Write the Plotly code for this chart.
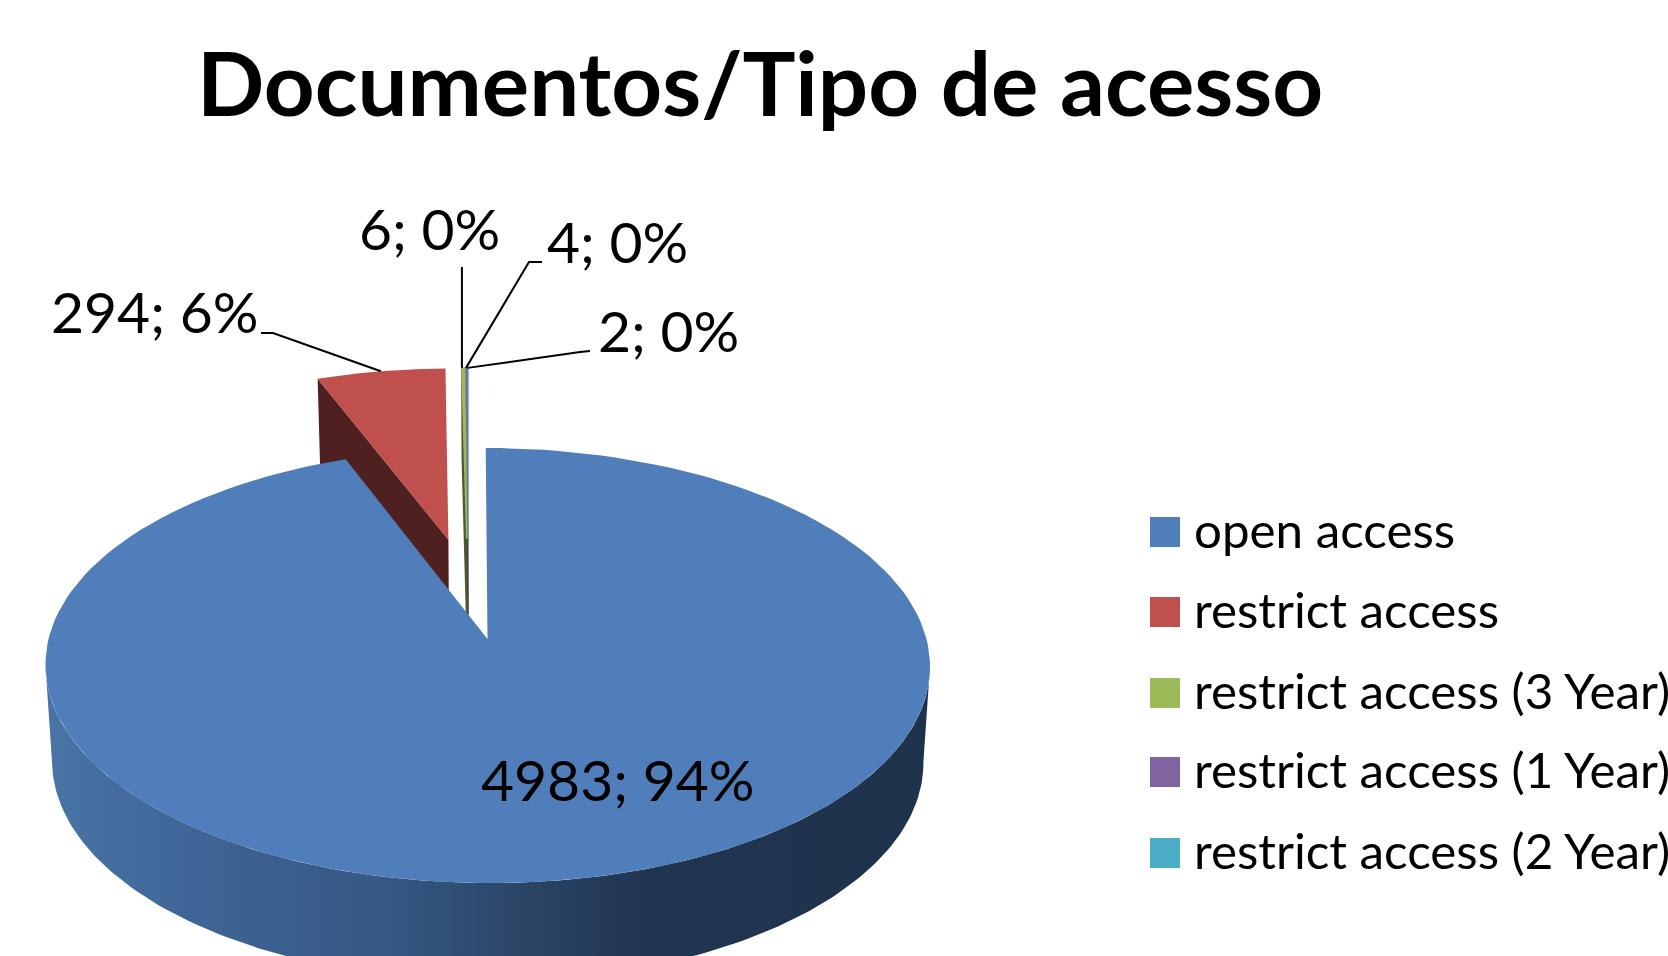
import numpy as np
import plotly.graph_objects as go

categories = ["open access", "restrict access", "restrict access (3 Year)",
              "restrict access (1 Year)", "restrict access (2 Year)"]
values = [4983, 294, 6, 4, 2]
colors = ["#4F7EBB", "#C0504D", "#9BBB59", "#8064A2", "#4BACC6"]
wall_colors = ["#1F334D", "#4F2020", "#4A5A2A", "#3E3150", "#245663"]
title = "Documentos/Tipo de acesso"

FONT = "Lato"
WIDTH, HEIGHT = 1668, 956

# pie geometry in page pixels, fitted to the reference (apex of the big slice)
CX, CY = 487.5, 639
RX, RY = 439, 214.3
SHEAR = -2
PERSP = 0.1219
EXPLODE = 0.25
DEPTH, DEPTH_SLOPE = 96, 50
BOTTOM_SCALE = 0.985

total = sum(values)
edges = np.cumsum([0] + values) / total * 360
mids = (edges[:-1] + edges[1:]) / 2


def offset(i):
    # explosion of slice i, relative to the apex of slice 0
    a, b = np.radians(mids[i]), np.radians(mids[0])
    return (EXPLODE * (np.sin(a) - np.sin(b)), EXPLODE * (np.cos(a) - np.cos(b)))


def project(u, v, z=0):
    # disc coordinates -> page, z=1 is the underside of the pie
    u, v = np.asarray(u, float), np.asarray(v, float)
    w = 1 + PERSP * v
    s = 1 - (1 - BOTTOM_SCALE) * z
    x = CX + (RX * u + SHEAR * v) / w * s
    y = CY - RY * v / w * s + z * (DEPTH - DEPTH_SLOPE * (w - 1))
    return x, y


def rim(i, start, stop, z=0, n=160):
    t = np.radians(np.linspace(start, stop, n))
    ox, oy = offset(i)
    return project(ox + np.sin(t), oy + np.cos(t), z)


def top_face(i):
    ox, oy = offset(i)
    x, y = rim(i, edges[i], edges[i + 1])
    ax, ay = project(ox, oy)
    return np.r_[ax, x, ax], np.r_[ay, y, ay]


def left_face(i):
    # radial wall on the left edge of a slice
    ox, oy = offset(i)
    t = np.radians(edges[i])
    ax, ay = project(ox, oy)
    bx, by = project(ox, oy, 1)
    cx, cy = project(ox + np.sin(t), oy + np.cos(t))
    dx, dy = project(ox + np.sin(t), oy + np.cos(t), 1)
    return [ax, cx, dx, bx, ax], [ay, cy, dy, by, ay]


def poly(x, y, color, width=0):
    return go.Scatter(x=x, y=y, mode="lines", fill="toself", fillcolor=color,
                      line=dict(width=width, color=color), hoverinfo="skip")


fig = go.Figure()

# small exploded slices, far side first, big slice goes on top of them
# the three tiny ones get an outline, otherwise they vanish like in a plain render
for i in [4, 3, 2, 1]:
    width = 1.5 if i > 1 else 0
    x, y = left_face(i)
    fig.add_trace(poly(x, y, wall_colors[i], width))
    x, y = top_face(i)
    fig.add_trace(poly(x, y, colors[i], width))

# outer wall of the big slice with its horizontal shading
turn = np.degrees(np.arccos(-PERSP))
x0, y0 = rim(0, turn, 360 - turn)
x1, y1 = rim(0, 360 - turn, turn, 1)
fig.add_trace(go.Scatter(
    x=np.r_[x0, x1], y=np.r_[y0, y1], mode="lines", fill="toself",
    fillgradient=dict(
        type="horizontal", start=46, stop=930,
        colorscale=[[0, "#4874A6"], [0.17, "#3F6596"], [0.4, "#345682"],
                    [0.52, "#2C4769"], [0.68, "#203550"], [1, "#1F324C"]],
    ),
    line=dict(width=0), hoverinfo="skip",
))
x, y = top_face(0)
fig.add_trace(poly(x, y, colors[0]))


# leader lines, the outer ends sit next to the label text
def leader(i, frac, *elbow):
    a = edges[i] + (edges[i + 1] - edges[i]) * frac
    x, y = rim(i, a, a, n=1)
    xs = [float(x[0]) if e[0] is None else e[0] for e in elbow]
    fig.add_trace(go.Scatter(
        x=xs + [float(x[0])],
        y=[e[1] for e in elbow] + [float(y[0])],
        mode="lines", line=dict(color="black", width=2), hoverinfo="skip",
    ))


leader(1, 0.5, (261, 333), (273, 333))
leader(2, 0.0, (None, 267))
leader(3, 0.5, (542, 262), (529, 262))
leader(4, 0.5, (590, 351), (580, 352))

# legend is drawn by hand, the plotly one can't do the big squares
legend_y = [532, 612, 693, 772, 853]
fig.add_trace(go.Scatter(
    x=[1165] * 5, y=legend_y, mode="markers",
    marker=dict(symbol="square", size=30, color=colors, line=dict(width=0)),
    hoverinfo="skip",
))

annotations = [dict(x=195, y=81, text=f"<b>{title}</b>", font=dict(size=88.7))]
for name, ly in zip(categories, legend_y):
    annotations.append(dict(x=1192, y=ly - 3, text=name, font=dict(size=49.3)))

label_pos = [(479, 779), (49, 311), (357, 228), (545, 241), (596, 330)]
for v, (lx, ly) in zip(values, label_pos):
    annotations.append(dict(x=lx, y=ly, text=f"{v}; {round(v / total * 100)}%",
                            font=dict(size=57)))

for a in annotations:
    a.update(xref="x", yref="y", xanchor="left", yanchor="middle",
             showarrow=False, align="left")
    a["font"].update(family=FONT, color="black")

fig.update_layout(
    width=WIDTH, height=HEIGHT, showlegend=False,
    margin=dict(l=0, r=0, t=0, b=0),
    plot_bgcolor="white", paper_bgcolor="white",
    annotations=annotations,
    xaxis=dict(range=[0, WIDTH], visible=False, fixedrange=True),
    yaxis=dict(range=[HEIGHT, 0], visible=False, fixedrange=True),
)

fig.write_html("out.html", config=dict(displayModeBar=False),
               post_script="document.body.style.margin='0';document.body.style.overflow='hidden';")
